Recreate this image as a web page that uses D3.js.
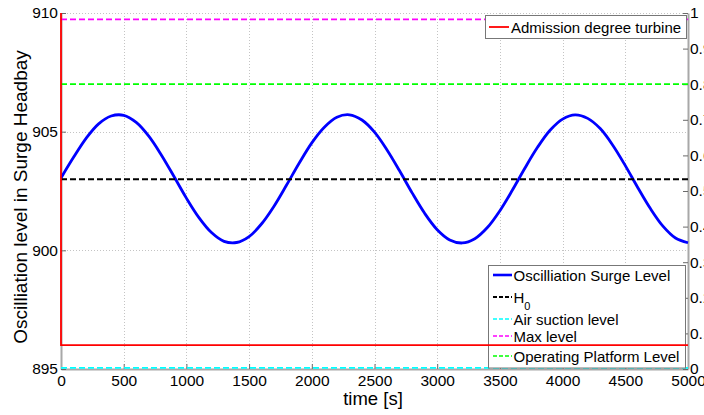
<!DOCTYPE html>
<html>
<head>
<meta charset="utf-8">
<script src="https://cdn.jsdelivr.net/npm/d3@7"></script>
<style>
  html, body { margin: 0; padding: 0; background: #fff; }
  svg { display: block; font-family: "Liberation Sans", Arial, sans-serif; }
</style>
</head>
<body>
<svg id="chart" width="704" height="415"></svg>
<script>
// ---------------- data ----------------
const time = [0,100,200,300,400,500,600,700,800,900,1000,1100,1200,1300,1400,1500,1600,1700,1800,1900,
  2000,2100,2200,2300,2400,2500,2600,2700,2800,2900,3000,3100,3200,3300,3400,3500,3600,3700,3800,3900,
  4000,4100,4200,4300,4400,4500,4600,4700,4800,4900,5000];
const surgeLevel = [903.05,903.92,904.72,905.33,905.66,905.69,905.39,904.81,904.02,903.12,
  902.20,901.38,900.75,900.38,900.33,900.58,901.12,901.87,902.76,903.68,
  904.53,905.19,905.61,905.71,905.49,904.98,904.23,903.35,902.42,901.56,
  900.87,900.44,900.31,900.49,900.96,901.67,902.54,903.47,904.34,905.06,
  905.53,905.71,905.56,905.13,904.43,903.57,902.64,901.76,901.02,900.52,900.32];
const timeRange = [0, 5000];
const h0Level = 903.0;
const airSuctionLevel = 895.05;
const maxLevel = 909.73;
const platformLevel = 907.0;
const admissionTime = [0, 0, 5000];
const admissionDegree = [1.0, 0.067, 0.067];
const xTicks = [0,500,1000,1500,2000,2500,3000,3500,4000,4500,5000];
const leftTicks = [895, 900, 905, 910];
const rightTicks = [0,0.1,0.2,0.3,0.4,0.5,0.6,0.7,0.8,0.9,1];
const rightTickLabels = ["0","0.1","0.2","0.3","0.4","0.5","0.6","0.7","0.8","0.9","1"];
const leftDomain = [895, 910];
const rightDomain = [0, 1];
const legendMain = ["Oscilliation Surge Level", "H", "Air suction level", "Max level", "Operating Platform Level"];
const legendRight = ["Admission degree turbine"];

// ---------------- layout ----------------
const L = 61, R = 688, T = 13, B = 369;
const svg = d3.select("#chart");
const x = d3.scaleLinear().domain([0, 5000]).range([L, R]);
const y = d3.scaleLinear().domain(leftDomain).range([B, T]);
const y2 = d3.scaleLinear().domain(rightDomain).range([B, T]);

svg.append("defs").append("clipPath").attr("id", "plotclip")
  .append("rect").attr("x", L - 1).attr("y", T - 1).attr("width", R - L + 2).attr("height", B - T + 2);

// grid
const grid = svg.append("g").attr("stroke", "#c4c4c4").attr("stroke-dasharray", "1,2").attr("stroke-width", 1);
xTicks.filter(t => t > 0 && t < 5000).forEach(t => {
  grid.append("line").attr("x1", Math.round(x(t)) + 0.5).attr("x2", Math.round(x(t)) + 0.5)
    .attr("y1", T).attr("y2", B);
});
leftTicks.filter(t => t > 895).forEach(t => {
  grid.append("line").attr("x1", L).attr("x2", R).attr("y1", Math.round(y(t)) + 0.5).attr("y2", Math.round(y(t)) + 0.5);
});

// axes
const axisColor = "#a8a8a8";
const xAxis = svg.append("g").attr("transform", `translate(0,${B})`)
  .call(d3.axisBottom(x).tickValues(xTicks).tickFormat(d3.format("d")).tickSizeInner(-5).tickSizeOuter(0).tickPadding(6));
const yAxis = svg.append("g").attr("transform", `translate(${L},0)`)
  .call(d3.axisLeft(y).tickValues(leftTicks).tickFormat(d3.format("d")).tickSizeInner(-5).tickSizeOuter(0).tickPadding(3));
const y2Axis = svg.append("g").attr("transform", `translate(${R},0)`)
  .call(d3.axisRight(y2).tickValues(rightTicks).tickFormat((d, i) => rightTickLabels[i]).tickSizeInner(-5).tickSizeOuter(0).tickPadding(2));
[xAxis, yAxis, y2Axis].forEach(g => {
  g.select(".domain").attr("stroke", axisColor).attr("stroke-width", 2);
  g.selectAll(".tick line").attr("stroke", "#6a6a6a");
  g.selectAll(".tick text").attr("fill", "#000").attr("font-size", 15.5).attr("font-family", "Liberation Sans, Arial, sans-serif");
});
xAxis.selectAll(".tick text").attr("dy", "0.72em");

// titles
svg.append("text").attr("x", 373).attr("y", 405).attr("text-anchor", "middle")
  .attr("font-size", 18.5).text("time [s]");
svg.append("text").attr("transform", "translate(27,197) rotate(-90)").attr("text-anchor", "middle")
  .attr("font-size", 19).text("Oscilliation level in Surge Headbay");

// lines
const plot = svg.append("g").attr("clip-path", "url(#plotclip)");
const line = d3.line().curve(d3.curveCatmullRom).x((d, i) => x(time[i])).y(d => y(d));
plot.append("path").datum(surgeLevel).attr("d", line).attr("fill", "none")
  .attr("stroke", "#0000ff").attr("stroke-width", 2.8).attr("stroke-linejoin", "round");
function hline(v, color, w) {
  plot.append("path").datum(timeRange)
    .attr("d", d3.line().x(d => x(d)).y(() => y(v)))
    .attr("stroke", color).attr("stroke-width", w).attr("stroke-dasharray", "6,3").attr("fill", "none");
}
hline(h0Level, "#000000", 2);
hline(airSuctionLevel, "#00ffff", 1.7);
hline(maxLevel, "#ff00ff", 1.7);
hline(platformLevel, "#00ff00", 1.7);

// legend (main)
const lg = svg.append("g");
lg.append("rect").attr("x", 488.5).attr("y", 265.5).attr("width", 197).attr("height", 102.5)
  .attr("fill", "#fff").attr("stroke", "#777").attr("stroke-width", 1);
const legRows = [
  {y: 275, color: "#0000ff", dash: null, w: 2.6},
  {y: 297, color: "#000000", dash: "4,2", w: 1.8},
  {y: 319, color: "#00ffff", dash: "4,2", w: 1.6},
  {y: 336, color: "#ff00ff", dash: "4,2", w: 1.6},
  {y: 356, color: "#00ff00", dash: "4,2", w: 1.6}
];
legRows.forEach((r, i) => {
  lg.append("line").attr("x1", 493).attr("x2", 512).attr("y1", r.y).attr("y2", r.y)
    .attr("stroke", r.color).attr("stroke-width", r.w).attr("stroke-dasharray", r.dash);
  const t = lg.append("text").attr("x", 513.5).attr("y", r.y + 5.5).attr("font-size", 15).text(legendMain[i]);
  if (i === 1) {
    t.append("tspan").attr("dy", 7).attr("font-size", 11).text("0");
  }
});

// admission degree (right axis) – drawn on top
svg.append("path").datum(admissionDegree)
  .attr("d", d3.line().x((d, i) => x(admissionTime[i])).y(d => y2(d)))
  .attr("fill", "none").attr("stroke", "#ff0000").attr("stroke-width", 1.8);

// legend (right)
const lg2 = svg.append("g");
lg2.append("rect").attr("x", 485.5).attr("y", 15.5).attr("width", 201).attr("height", 23)
  .attr("fill", "#fff").attr("stroke", "#777").attr("stroke-width", 1);
lg2.append("line").attr("x1", 489).attr("x2", 509).attr("y1", 27).attr("y2", 27)
  .attr("stroke", "#ff0000").attr("stroke-width", 1.8);
lg2.append("text").attr("x", 511).attr("y", 32.5).attr("font-size", 15).text(legendRight[0]);
</script>
</body>
</html>
